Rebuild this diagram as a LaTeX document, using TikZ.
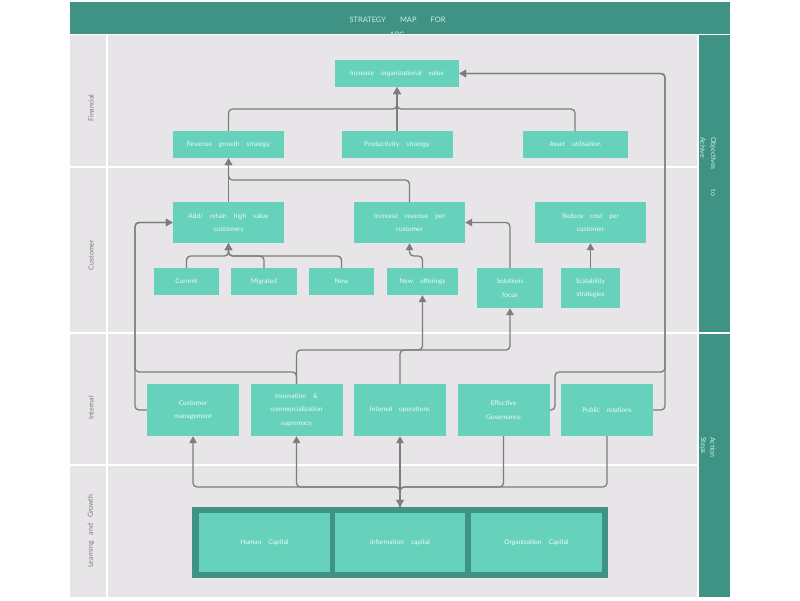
\documentclass[tikz,border=0pt]{standalone}
\usepackage{fontspec}
\setmainfont{Lato}
\usetikzlibrary{arrows.meta}
\definecolor{boxc}{RGB}{102,210,188}
\definecolor{darkc}{RGB}{62,147,133}
\definecolor{bgc}{RGB}{232,229,232}
\definecolor{linec}{RGB}{125,125,125}
\definecolor{labc}{RGB}{120,120,120}
\definecolor{txtc}{RGB}{236,250,247}
\definecolor{ttlc}{RGB}{205,238,230}
\newcommand{\myboxfont}{\fontsize{6.6}{13.5}\selectfont\spaceskip 7pt plus 1pt\relax}
\newcommand{\mylabfont}{\fontsize{7}{9}\selectfont\spaceskip 6pt plus 1pt\relax}
\newcommand{\mysidefont}{\fontsize{7}{9}\selectfont\spaceskip 20pt plus 1pt\relax}
\newcommand{\myttlfont}{\fontsize{7.5}{9}\selectfont\spaceskip 14pt plus 1pt\relax}
\begin{document}
\begin{tikzpicture}[x=1pt,y=-1pt,
  box/.style={fill=boxc, text=txtc, font=\myboxfont, align=center, inner sep=0pt},
  lab/.style={text=labc, font=\mylabfont, rotate=90},
  side/.style={text=ttlc, font=\mysidefont, rotate=-90, anchor=west, inner sep=0pt},
  ttl/.style={text=ttlc, font=\myttlfont, inner sep=0pt},
  conn/.style={draw=linec, line width=1.3pt, rounded corners=4pt},
  arr/.style={conn, -{Triangle[width=7.5pt,length=7pt]}}
]
\useasboundingbox (0,0) rectangle (800,600);
% title bar
\fill[darkc] (70,2) rectangle (730,33.5);
\node[ttl] (title) at (397.5,20) {STRATEGY MAP FOR};
\node[ttl, anchor=base] (abc) at (397,37) {ABC};
% lanes
\fill[bgc] (70,35) rectangle (697,597);
\fill[darkc] (698.5,35) rectangle (730,597);
\draw[white, line width=2pt] (106.5,35) -- (106.5,597);
\draw[white, line width=2pt] (70,167) -- (697,167);
\draw[white, line width=2pt] (70,333) -- (730,333);
\draw[white, line width=2pt] (70,465) -- (697,465);
% lane labels
\node[lab] (lfin) at (91,108) {Financial};
\node[lab] (lcus) at (91,255) {Customer};
\node[lab] (lint) at (91,408) {Internal};
\node[lab] (llg) at (91,531) {Learning and Growth};
\node[side] (s1) at (713,137) {Objectives to};
\node[side] (s2) at (703,137) {Achive};
\node[side] (s3) at (713,437) {Action};
\node[side] (s4) at (703,437) {Steps};
% financial
\node[box, minimum width=124pt, minimum height=27pt] (iov) at (397,73.5) {Increase organizational value};
\node[box, minimum width=111pt, minimum height=27pt] (rgs) at (228.5,144.5) {Revenue growth strategy};
\node[box, minimum width=111pt, minimum height=27pt] (ps) at (397,144.5) {Productivity strategy};
\node[box, minimum width=105pt, minimum height=27pt] (au) at (575,144.5) {Asset utilisation};
% customer
\node[box, minimum width=111pt, minimum height=41pt] (arh) at (228.5,222.5) {Add/ retain high value\\customers};
\node[box, minimum width=111pt, minimum height=41pt] (irc) at (409.5,222.5) {Increase revenue per\\customer};
\node[box, minimum width=111pt, minimum height=41pt] (rcc) at (590.5,222.5) {Reduce cost per\\customer};
\node[box, minimum width=65pt, minimum height=27pt] (cur) at (186.5,281.5) {Current};
\node[box, minimum width=66pt, minimum height=27pt] (mig) at (264,281.5) {Migrated};
\node[box, minimum width=65pt, minimum height=27pt] (new) at (341.5,281.5) {New};
\node[box, minimum width=71pt, minimum height=27pt] (nof) at (422.5,281.5) {New offerings};
\node[box, minimum width=66pt, minimum height=40pt] (sf) at (510,288) {Solutions\\focus};
\node[box, minimum width=59pt, minimum height=40pt] (ss) at (590.5,288) {Scalability\\strategies};
% internal
\node[box, minimum width=92pt, minimum height=52pt] (cm) at (193,410) {Customer\\management};
\node[box, minimum width=92pt, minimum height=52pt] (inn) at (296.5,410) {Innovation \&\\commercialization\\supremacy};
\node[box, minimum width=92pt, minimum height=52pt] (iop) at (400,410) {Internal operations};
\node[box, minimum width=92pt, minimum height=52pt] (eg) at (503.5,410) {Effective\\Governance};
\node[box, minimum width=92pt, minimum height=52pt] (pr) at (607,410) {Public relations};
% learning
\node[fill=darkc, minimum width=416pt, minimum height=71pt, inner sep=0pt] (lg) at (400,542.5) {};
\node[box, minimum width=131pt, minimum height=59pt] (hc) at (264.5,542.5) {Human Capital};
\node[box, minimum width=130pt, minimum height=59pt] (ic) at (400,542.5) {Information capital};
\node[box, minimum width=131pt, minimum height=59pt] (oc) at (536.5,542.5) {Organization Capital};
% levels
\coordinate (fy) at (0,109);
\coordinate (cy1) at (0,180);
\coordinate (cy2) at (0,256);
\coordinate (iy1) at (0,372);
\coordinate (iy2) at (0,350);
\coordinate (by) at (0,487);
\coordinate (lx) at (135,0);
\coordinate (ex) at (555,0);
\coordinate (rx) at (665,0);
% financial connectors
\draw[arr] (rgs.north) |- (iov.south |- fy) -- (iov.south);
\draw[arr] (ps.north) -- (iov.south);
\draw[arr] (au.north) |- (iov.south |- fy) -- (iov.south);
% customer to financial
\draw[arr] (arh.north) -- (rgs.south);
\draw[arr] (irc.north) |- (rgs.south |- cy1) -- (rgs.south);
% customer internal
\draw[arr] (cur.north) |- (arh.south |- cy2) -- (arh.south);
\draw[arr] (mig.north) |- (arh.south |- cy2) -- (arh.south);
\draw[arr] (new.north) |- (arh.south |- cy2) -- (arh.south);
\draw[arr] (nof.north) |- (irc.south |- cy2) -- (irc.south);
\draw[arr] (sf.north) |- (irc.east);
\draw[arr] (ss.north) -- (rcc.south);
% internal to customer / financial
\draw[arr] (cm.west) -| (lx |- arh.west) -- (arh.west);
\draw[arr] (inn.north) |- (lx |- iy1) |- (arh.west);
\draw[arr] (inn.north) |- (nof.south |- iy2) -- (nof.south);
\draw[arr] (iop.north) |- (sf.south |- iy2) -- (sf.south);
\draw[arr] (eg.east) -| (ex |- iy1) -| (rx |- iov.east) -- (iov.east);
\draw[arr] (pr.east) -| (rx |- iov.east) -- (iov.east);
% learning
\draw[arr] (lg.north) -- (lg.north |- by) -| (cm.south);
\draw[arr] (lg.north) -- (lg.north |- by) -| (inn.south);
\draw[arr] (lg.north) -- (iop.south);
\draw[arr] (eg.south) |- (lg.north |- by) -- (lg.north);
\draw[arr] (pr.south) |- (lg.north |- by) -- (lg.north);
\end{tikzpicture}
\end{document}
